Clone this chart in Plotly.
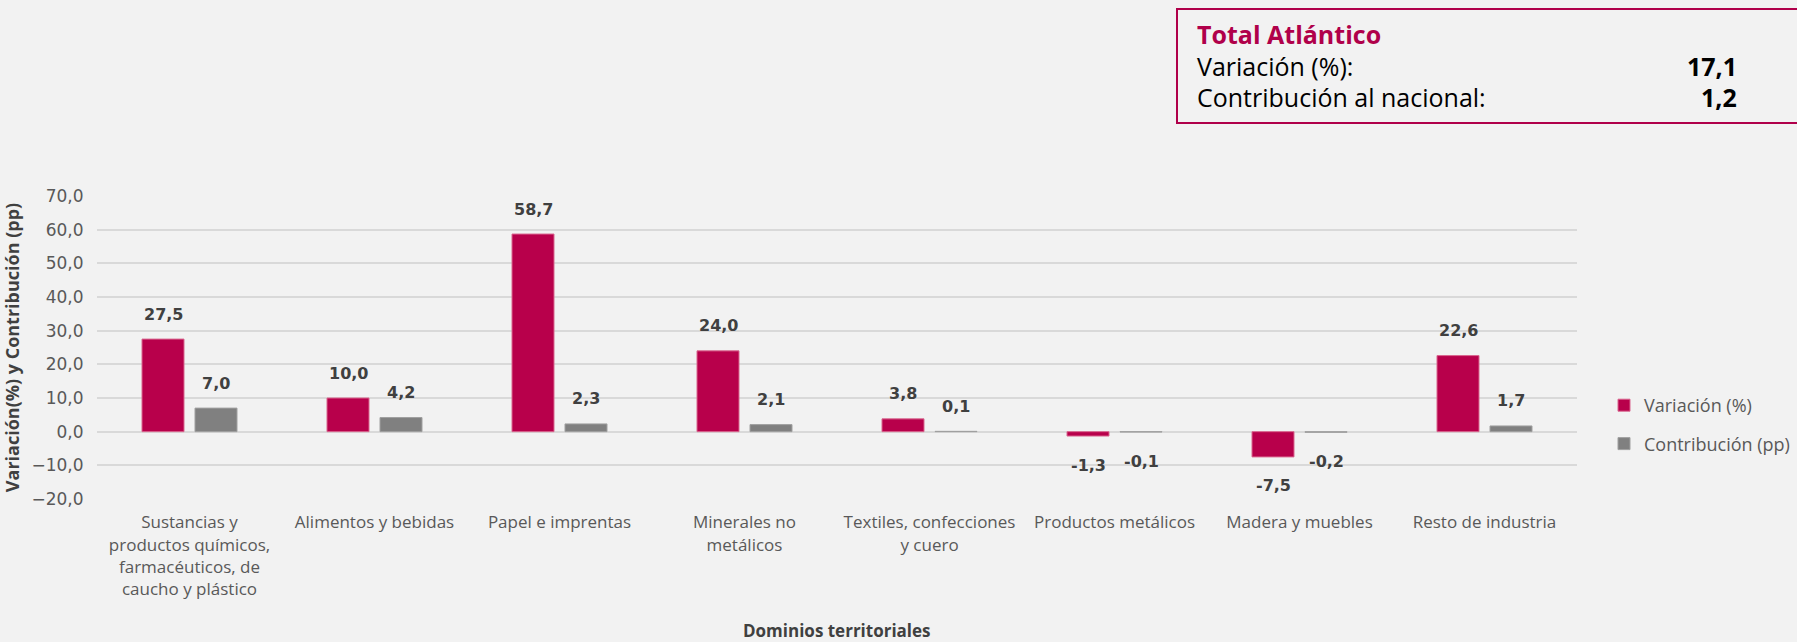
import plotly.graph_objects as go

categorias = [
    "Sustancias y<br>productos químicos,<br>farmacéuticos, de<br>caucho y plástico",
    "Alimentos y bebidas",
    "Papel e imprentas",
    "Minerales no<br>metálicos",
    "Textiles, confecciones<br>y cuero",
    "Productos metálicos",
    "Madera y muebles",
    "Resto de industria",
]
variacion = [27.5, 10.0, 58.7, 24.0, 3.8, -1.3, -7.5, 22.6]
contribucion = [7.0, 4.2, 2.3, 2.1, 0.1, -0.1, -0.2, 1.7]
total_variacion = "17,1"
total_contribucion = "1,2"

W, H = 1797, 642
L, R, T, B = 97, 1577, 196, 499
RED = "#B8004B"
GRAY = "#808080"
BG = "#F2F2F2"
FONT = "Open Sans"
NUMFONT = "DejaVu Sans"

def px(x):
    return (x - L) / (R - L)

def py(y):
    return (B - y) / (B - T)

fig = go.Figure()
fig.add_trace(go.Bar(x=categorias, y=variacion, name="Variación (%)",
                     marker=dict(color=RED, line=dict(color="#D9668F", width=1)),
                     legendgroup="a"))
fig.add_trace(go.Bar(x=categorias, y=contribucion, name="Contribución (pp)",
                     marker=dict(color=GRAY, line=dict(color="#A0A0A0", width=1)),
                     legendgroup="b"))

def fmt(v):
    return f"{v:.1f}".replace(".", ",")

annotations = []
for series, shift in ((variacion, -26.5), (contribucion, 26.5)):
    for c, v in zip(categorias, series):
        annotations.append(dict(
            x=c, y=v, xref="x", yref="y", text=f"<b>{fmt(v)}</b>",
            showarrow=False, xshift=shift, yshift=(25 if v >= 0 else -29),
            font=dict(family=NUMFONT, size=16, color="#404040"),
        ))

# Summary box
annotations += [
    dict(x=px(1195), y=py(34), xref="paper", yref="paper", xanchor="left", yanchor="middle",
         text="<b>Total Atlántico</b>", showarrow=False,
         font=dict(family=FONT, size=25, color="#B0004A")),
    dict(x=px(1195), y=py(66), xref="paper", yref="paper", xanchor="left", yanchor="middle",
         text="Variación (%):", showarrow=False,
         font=dict(family=FONT, size=25, color="#000000")),
    dict(x=px(1195), y=py(97), xref="paper", yref="paper", xanchor="left", yanchor="middle",
         text="Contribución al nacional:", showarrow=False,
         font=dict(family=FONT, size=25, color="#000000")),
    dict(x=px(1739), y=py(66), xref="paper", yref="paper", xanchor="right", yanchor="middle",
         text=f"<b>{total_variacion}</b>", showarrow=False,
         font=dict(family=FONT, size=25, color="#000000")),
    dict(x=px(1739), y=py(97), xref="paper", yref="paper", xanchor="right", yanchor="middle",
         text=f"<b>{total_contribucion}</b>", showarrow=False,
         font=dict(family=FONT, size=25, color="#000000")),
    dict(x=0.5, y=py(630), xref="paper", yref="paper", xanchor="center", yanchor="middle",
         text="<b>Dominios territoriales</b>", showarrow=False,
         font=dict(family=FONT, size=17, color="#404040")),
]

shapes = [dict(type="rect", xref="paper", yref="paper",
               x0=px(1177), x1=px(1800), y0=py(123), y1=py(9),
               line=dict(color="#B0004A", width=2), fillcolor="rgba(0,0,0,0)")]

fig.update_layout(
    width=W, height=H,
    margin=dict(l=L, r=W - R, t=T, b=H - B, autoexpand=False),
    paper_bgcolor=BG, plot_bgcolor=BG,
    separators=",.",
    barmode="group", bargap=0.427, bargroupgap=0.2075,
    font=dict(family=FONT, size=17, color="#595959"),
    annotations=annotations, shapes=shapes,
    legend=dict(x=px(1604), y=py(387), xanchor="left", yanchor="top",
                font=dict(family=FONT, size=18, color="#595959"),
                tracegroupgap=12, itemwidth=30, bgcolor="rgba(0,0,0,0)"),
    showlegend=True,
)
fig.update_yaxes(range=[-20, 70], dtick=10, tickformat=".1f",
                 gridcolor="#D9D9D9", gridwidth=2, zeroline=True,
                 zerolinecolor="#D9D9D9", zerolinewidth=2,
                 ticks="outside", ticklen=9, tickcolor="rgba(0,0,0,0)",
                 tickfont=dict(family=NUMFONT, size=17, color="#595959"),
                 title=dict(text="<b>Variación(%) y Contribución (pp)</b>", standoff=8,
                            font=dict(family=FONT, size=18, color="#404040")))
fig.update_xaxes(showgrid=False, ticks="outside", ticklen=8, tickcolor="rgba(0,0,0,0)",
                 tickfont=dict(family=FONT, size=17, color="#595959"), tickangle=0,
                 automargin=False)

fig.write_html("out.html", config={"displayModeBar": False},
               post_script="document.body.style.margin='0';document.body.style.background='#F2F2F2';")
